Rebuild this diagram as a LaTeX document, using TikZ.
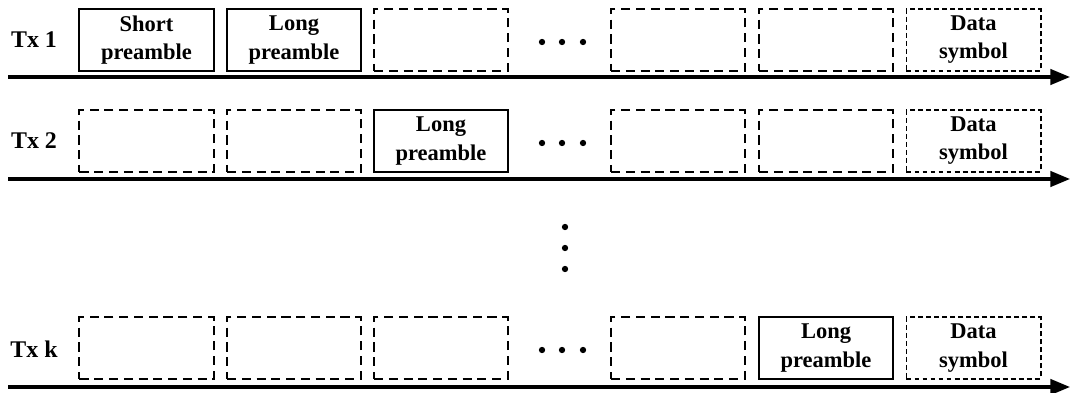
\documentclass[tikz,border=0pt]{standalone}
\usepackage{fontspec}
\setmainfont{Liberation Serif}
\usetikzlibrary{arrows.meta}
\tikzset{
  slot/.style={draw, minimum width=3.35cm, minimum height=1.53cm, inner sep=0pt,
    align=center, font=\fontsize{16}{20}\selectfont\bfseries},
  solidslot/.style={slot, line width=1.4pt},
  emptyslot/.style={slot, line width=1.4pt, dash pattern=on 6.5pt off 4pt},
  dataslot/.style={slot, line width=1.4pt, dash pattern=on 3.5pt off 2.2pt},
  txlabel/.style={font=\fontsize{17}{19}\selectfont\bfseries, inner sep=0pt},
  timeline/.style={line width=2.2pt, -{Triangle[length=14pt, width=11pt]}},
  dot/.style={circle, fill=black, inner sep=0pt, minimum size=4.5pt}
}
\begin{document}
\begin{tikzpicture}[x=0.025cm, y=-0.025cm]
  \useasboundingbox (0,0) rectangle (1071,393);
  % Tx 1
  \node[txlabel] (t1) at (34,40) {Tx 1};
  \node[solidslot] (a1) at (146.5,40) {Short\\preamble};
  \node[solidslot] (a2) at (294,40) {Long\\preamble};
  \node[emptyslot] (a3) at (441,40) {};
  \node[emptyslot] (a4) at (678,40) {};
  \node[emptyslot] (a5) at (826,40) {};
  \node[dataslot] (a6) at (973.5,40) {Data\\symbol};
  \node[dot] (ad1) at (542,42) {};
  \node[dot] (ad2) at (562,42) {};
  \node[dot] (ad3) at (583,42) {};
  \coordinate (s1) at (8,77);
  \coordinate (e1) at (1070,77);
  \draw[timeline] (s1) -- (e1);
  % Tx 2
  \node[txlabel] (t2) at (34,141) {Tx 2};
  \node[emptyslot] (b1) at (146.5,141) {};
  \node[emptyslot] (b2) at (294,141) {};
  \node[solidslot] (b3) at (441,141) {Long\\preamble};
  \node[emptyslot] (b4) at (678,141) {};
  \node[emptyslot] (b5) at (826,141) {};
  \node[dataslot] (b6) at (973.5,141) {Data\\symbol};
  \node[dot] (bd1) at (542,143) {};
  \node[dot] (bd2) at (562,143) {};
  \node[dot] (bd3) at (583,143) {};
  \coordinate (s2) at (8,179);
  \coordinate (e2) at (1070,179);
  \draw[timeline] (s2) -- (e2);
  % vertical dots
  \node[dot] (v1) at (565,227) {};
  \node[dot] (v2) at (565,248) {};
  \node[dot] (v3) at (565,269) {};
  % Tx k
  \node[txlabel] (tk) at (34,349) {Tx k};
  \node[emptyslot] (c1) at (146.5,348) {};
  \node[emptyslot] (c2) at (294,348) {};
  \node[emptyslot] (c3) at (441,348) {};
  \node[emptyslot] (c4) at (678,348) {};
  \node[solidslot] (c5) at (826,348) {Long\\preamble};
  \node[dataslot] (c6) at (973.5,348) {Data\\symbol};
  \node[dot] (cd1) at (542,350) {};
  \node[dot] (cd2) at (562,350) {};
  \node[dot] (cd3) at (583,350) {};
  \coordinate (s3) at (8,387);
  \coordinate (e3) at (1070,387);
  \draw[timeline] (s3) -- (e3);
\end{tikzpicture}
\end{document}
